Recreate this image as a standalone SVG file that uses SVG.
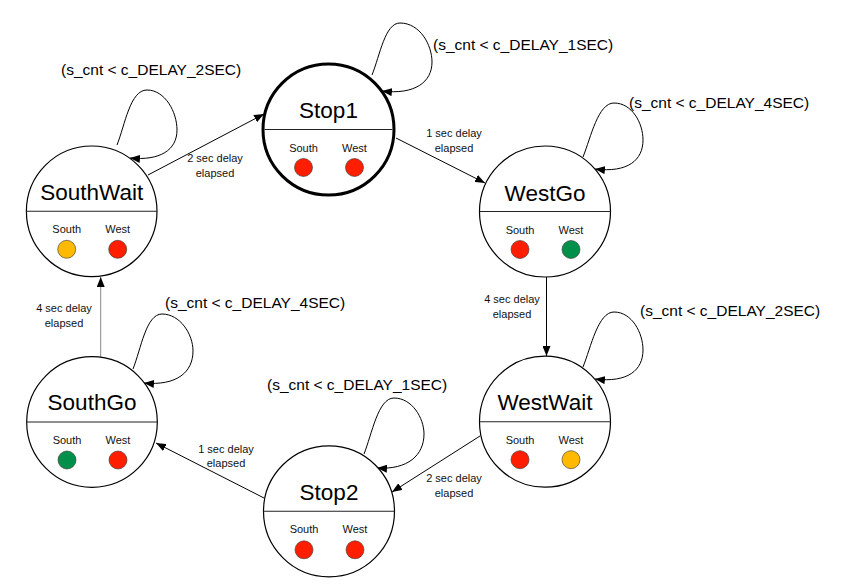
<svg xmlns="http://www.w3.org/2000/svg" width="843" height="587" viewBox="0 0 843 587">
<style>
.bg{fill:#ffffff}
.st{fill:#ffffff;stroke:#000;stroke-width:1.2}
.st.init{stroke-width:3}
.div{stroke:#222;stroke-width:1.1}
.title{font-family:"Liberation Sans",Arial,sans-serif;font-size:22.5px;fill:#000;text-anchor:middle}
.lbl{font-family:"Liberation Sans",Arial,sans-serif;font-size:11px;fill:#111;text-anchor:middle}
.cond{font-family:"Liberation Sans",Arial,sans-serif;font-size:15.5px;fill:#000}
.red{fill:#ff1e00;stroke:#333;stroke-width:0.6}
.yel{fill:#ffb900;stroke:#333;stroke-width:0.6}
.grn{fill:#00904a;stroke:#333;stroke-width:0.6}
.edge{fill:none;stroke:#000;stroke-width:1}
.grey{stroke:#888}
</style>
<defs>
<marker id="ah" markerUnits="userSpaceOnUse" markerWidth="11" markerHeight="8" refX="10" refY="4" orient="auto">
<path d="M0,0 L10,4 L0,8 z" fill="#000"/>
</marker>
</defs>
<rect class="bg" width="843" height="587"/>

<g id="connectors">
<path class="edge" d="M372,75 C380,55 385,23 400,23 C420,23 432,45 432,62 C432,82 415,95 382,91" marker-end="url(#ah)"/>
<path class="edge" d="M583,157 C591,137 598,103 614,103 C632,103 643,123 643,140 C643,160 628,173 595,169" marker-end="url(#ah)"/>
<path class="edge" d="M583,367 C591,347 598,312 614,312 C632,312 643,333 643,350 C643,370 628,383 595,379" marker-end="url(#ah)"/>
<path class="edge" d="M364,454 C372,434 378,398 394,398 C412,398 424,418 424,434 C424,455 408,470 377,468" marker-end="url(#ah)"/>
<path class="edge" d="M133,369 C141,349 146,314 162,314 C180,314 193,334 193,351 C193,372 177,386 144,383" marker-end="url(#ah)"/>
<path class="edge" d="M117,145 C125,125 130,90 147,90 C165,90 177,112 177,130 C177,150 160,161 130,158" marker-end="url(#ah)"/>

<path class="edge" d="M396,138 L485,183" marker-end="url(#ah)"/>
<path class="edge" d="M546.5,277 L546.5,356" marker-end="url(#ah)"/>
<path class="edge" d="M480,436 L392,492" marker-end="url(#ah)"/>
<path class="edge" d="M264,498 L156,443" marker-end="url(#ah)"/>
<path class="edge grey" d="M100.7,357 L100.7,277" marker-end="url(#ah)"/>
<path class="edge" d="M148,175 L264,114" marker-end="url(#ah)"/>

<text class="cond" x="433" y="50">(s_cnt &lt; c_DELAY_1SEC)</text>
<text class="cond" x="629" y="108">(s_cnt &lt; c_DELAY_4SEC)</text>
<text class="cond" x="640" y="316">(s_cnt &lt; c_DELAY_2SEC)</text>
<text class="cond" x="267" y="390">(s_cnt &lt; c_DELAY_1SEC)</text>
<text class="cond" x="165" y="308">(s_cnt &lt; c_DELAY_4SEC)</text>
<text class="cond" x="61" y="75">(s_cnt &lt; c_DELAY_2SEC)</text>

<text class="lbl" x="454" y="137">1 sec delay</text>
<text class="lbl" x="454" y="152">elapsed</text>
<text class="lbl" x="512" y="303">4 sec delay</text>
<text class="lbl" x="512" y="318">elapsed</text>
<text class="lbl" x="454" y="482">2 sec delay</text>
<text class="lbl" x="454" y="497">elapsed</text>
<text class="lbl" x="226" y="453">1 sec delay</text>
<text class="lbl" x="226" y="467">elapsed</text>
<text class="lbl" x="64" y="312">4 sec delay</text>
<text class="lbl" x="64" y="327">elapsed</text>
<text class="lbl" x="215" y="162">2 sec delay</text>
<text class="lbl" x="215" y="177">elapsed</text>
</g>

<g id="Stop1" transform="translate(328.5,129.5)">
<circle class="st init" r="65.5"/>
<line class="div" x1="-64" y1="0" x2="64" y2="0"/>
<text class="title" y="-11.5">Stop1</text>
<text class="lbl" x="-25" y="22">South</text>
<text class="lbl" x="26" y="22">West</text>
<circle class="red" cx="-25" cy="38" r="9"/>
<circle class="red" cx="26" cy="38" r="9"/>
</g>

<g id="WestGo" transform="translate(545,211.5)">
<circle class="st" r="65.5"/>
<line class="div" x1="-65.5" y1="0" x2="65.5" y2="0"/>
<text class="title" y="-11">WestGo</text>
<text class="lbl" x="-25" y="22">South</text>
<text class="lbl" x="26" y="22">West</text>
<circle class="red" cx="-25" cy="38" r="9"/>
<circle class="grn" cx="26" cy="38" r="9"/>
</g>

<g id="WestWait" transform="translate(545,421.7)">
<circle class="st" r="65.5"/>
<line class="div" x1="-65.5" y1="0" x2="65.5" y2="0"/>
<text class="title" y="-12">WestWait</text>
<text class="lbl" x="-25" y="22">South</text>
<text class="lbl" x="26" y="22">West</text>
<circle class="red" cx="-25" cy="38" r="9"/>
<circle class="yel" cx="26" cy="38" r="9"/>
</g>

<g id="Stop2" transform="translate(329,511.3)">
<circle class="st" r="65.5"/>
<line class="div" x1="-65.5" y1="0" x2="65.5" y2="0"/>
<text class="title" y="-11.5">Stop2</text>
<text class="lbl" x="-25" y="22">South</text>
<text class="lbl" x="26" y="22">West</text>
<circle class="red" cx="-25" cy="38.5" r="9"/>
<circle class="red" cx="26" cy="38.5" r="9"/>
</g>

<g id="SouthGo" transform="translate(92,422)">
<circle class="st" r="65.3"/>
<line class="div" x1="-65.3" y1="0" x2="65.3" y2="0"/>
<text class="title" y="-12">SouthGo</text>
<text class="lbl" x="-25" y="22">South</text>
<text class="lbl" x="26" y="22">West</text>
<circle class="grn" cx="-25" cy="38" r="9"/>
<circle class="red" cx="26" cy="38" r="9"/>
</g>

<g id="SouthWait" transform="translate(91.7,211.3)">
<circle class="st" r="65.3"/>
<line class="div" x1="-65.3" y1="0" x2="65.3" y2="0"/>
<text class="title" y="-11.5">SouthWait</text>
<text class="lbl" x="-25" y="22">South</text>
<text class="lbl" x="26" y="22">West</text>
<circle class="yel" cx="-25" cy="38" r="9"/>
<circle class="red" cx="26" cy="38" r="9"/>
</g>
</svg>
